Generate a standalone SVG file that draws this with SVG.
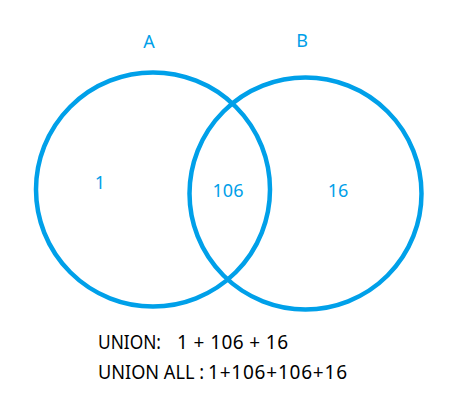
<svg xmlns="http://www.w3.org/2000/svg" width="450" height="418" viewBox="0 0 450 418">
<style>
.c{fill:none;stroke:#00A0E9;stroke-width:4.5}
.b{font-family:"Noto Sans","Open Sans",sans-serif;font-size:18px;fill:#00A0E9;text-anchor:middle}
.t{font-family:"Noto Sans","Open Sans",sans-serif;font-size:19px;fill:#000}
</style>
<rect width="450" height="418" fill="#fff"/>
<g id="setA">
<circle class="c" cx="153" cy="189.5" r="117"/>
<text class="b" x="149" y="48">A</text>
<text class="b" x="100" y="189">1</text>
</g>
<g id="setB">
<circle class="c" cx="305.5" cy="193.5" r="116"/>
<text class="b" x="302" y="47">B</text>
<text class="b" x="338" y="197">16</text>
</g>
<g id="intersection">
<text class="b" x="228" y="197">106</text>
</g>
<g id="connectors"/>
<g id="formulas">
<text class="t" x="98" y="349" textLength="63" lengthAdjust="spacingAndGlyphs">UNION:</text>
<text class="t" x="177" y="349" textLength="111">1 + 106 + 16</text>
<text class="t" x="98" y="379" textLength="106" lengthAdjust="spacingAndGlyphs">UNION ALL :</text>
<text class="t" x="208" y="379" textLength="139">1+106+106+16</text>
</g>
</svg>
